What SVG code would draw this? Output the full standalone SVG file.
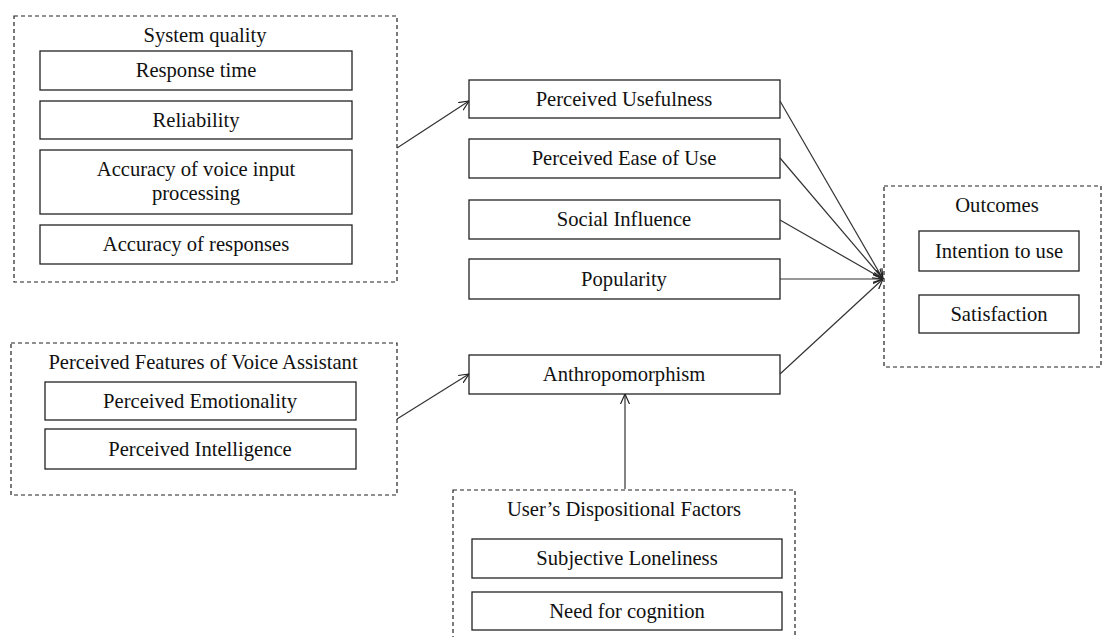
<svg xmlns="http://www.w3.org/2000/svg" width="1103" height="637" viewBox="0 0 1103 637">
<defs>
<style>
.grp{fill:none;stroke:#222;stroke-width:1.2;stroke-dasharray:4 3}
.box{fill:#fff;stroke:#222;stroke-width:1.3}
.t{font-family:"Liberation Serif","Times New Roman",serif;font-size:20.6px;fill:#111;text-anchor:middle}
.c{fill:none;stroke:#333;stroke-width:1.2}
</style>
<marker id="arr" viewBox="0 0 10 10" refX="10" refY="5" markerWidth="10" markerHeight="10" markerUnits="userSpaceOnUse" orient="auto">
<path d="M0,0.5 L10,5 L0,9.5" fill="none" stroke="#222" stroke-width="1.2"/>
</marker>
</defs>
<rect width="1103" height="637" fill="#fff"/>

<g id="system-quality">
<rect class="grp" x="14" y="16" width="383" height="266"/>
<text class="t" x="205" y="42">System quality</text>
<g id="response-time"><rect class="box" x="40" y="51" width="312" height="39"/><text class="t" x="196" y="77">Response time</text></g>
<g id="reliability"><rect class="box" x="40" y="101" width="312" height="38"/><text class="t" x="196" y="127">Reliability</text></g>
<g id="accuracy-voice"><rect class="box" x="40" y="150" width="312" height="64"/><text class="t" x="196" y="176">Accuracy of voice input</text><text class="t" x="196" y="200">processing</text></g>
<g id="accuracy-responses"><rect class="box" x="40" y="225" width="312" height="39"/><text class="t" x="196" y="251">Accuracy of responses</text></g>
</g>

<g id="perceived-features">
<rect class="grp" x="11" y="343" width="386" height="152"/>
<text class="t" x="203" y="369">Perceived Features of Voice Assistant</text>
<g id="emotionality"><rect class="box" x="45" y="382" width="311" height="38"/><text class="t" x="200" y="408">Perceived Emotionality</text></g>
<g id="intelligence"><rect class="box" x="45" y="429" width="311" height="40"/><text class="t" x="200" y="456">Perceived Intelligence</text></g>
</g>

<g id="perceived-usefulness"><rect class="box" x="469" y="80" width="311" height="38"/><text class="t" x="624" y="106">Perceived Usefulness</text></g>
<g id="perceived-ease"><rect class="box" x="469" y="139" width="311" height="39"/><text class="t" x="624" y="165">Perceived Ease of Use</text></g>
<g id="social-influence"><rect class="box" x="469" y="200" width="311" height="39"/><text class="t" x="624" y="226">Social Influence</text></g>
<g id="popularity"><rect class="box" x="469" y="259" width="311" height="40"/><text class="t" x="624" y="286">Popularity</text></g>
<g id="anthropomorphism"><rect class="box" x="469" y="355" width="311" height="39"/><text class="t" x="624" y="381">Anthropomorphism</text></g>

<g id="outcomes">
<rect class="grp" x="884" y="186" width="217" height="181"/>
<text class="t" x="997" y="212">Outcomes</text>
<g id="intention"><rect class="box" x="919" y="231" width="160" height="40"/><text class="t" x="999" y="258">Intention to use</text></g>
<g id="satisfaction"><rect class="box" x="919" y="295" width="160" height="38"/><text class="t" x="999" y="321">Satisfaction</text></g>
</g>

<g id="dispositional">
<rect class="grp" x="453" y="490" width="342" height="160"/>
<text class="t" x="624" y="516">User’s Dispositional Factors</text>
<g id="loneliness"><rect class="box" x="472" y="539" width="310" height="39"/><text class="t" x="627" y="565">Subjective Loneliness</text></g>
<g id="need-cognition"><rect class="box" x="472" y="592" width="310" height="38"/><text class="t" x="627" y="618">Need for cognition</text></g>
</g>

<g id="connectors">
<line class="c" x1="397" y1="148" x2="469" y2="101" marker-end="url(#arr)"/>
<line class="c" x1="397" y1="419" x2="469" y2="374" marker-end="url(#arr)"/>
<line class="c" x1="625" y1="489" x2="625" y2="394" marker-end="url(#arr)"/>
<line class="c" x1="780" y1="101" x2="883" y2="279" marker-end="url(#arr)"/>
<line class="c" x1="780" y1="158" x2="883" y2="279" marker-end="url(#arr)"/>
<line class="c" x1="780" y1="220" x2="883" y2="279" marker-end="url(#arr)"/>
<line class="c" x1="780" y1="279" x2="883" y2="279" marker-end="url(#arr)"/>
<line class="c" x1="780" y1="374" x2="883" y2="279" marker-end="url(#arr)"/>
</g>
</svg>
